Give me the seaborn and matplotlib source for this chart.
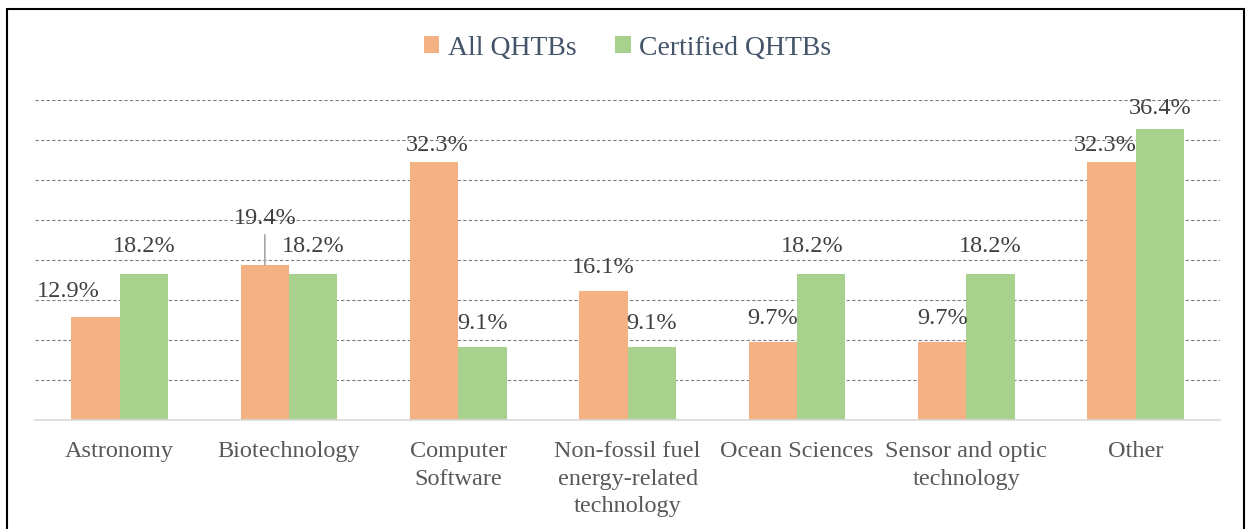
import pandas as pd
import matplotlib.pyplot as plt
import seaborn as sns
from matplotlib.patches import Rectangle

# data
categories = ['Astronomy', 'Biotechnology', 'Computer\nSoftware',
              'Non-fossil fuel\nenergy-related\ntechnology', 'Ocean Sciences',
              'Sensor and optic\ntechnology', 'Other']
all_qhtbs = [12.9, 19.4, 32.3, 16.1, 9.7, 9.7, 32.3]
certified_qhtbs = [18.2, 18.2, 9.1, 9.1, 18.2, 18.2, 36.4]
series = ['All QHTBs', 'Certified QHTBs']

df = pd.DataFrame({
    'category': categories * 2,
    'value': all_qhtbs + certified_qhtbs,
    'series': [series[0]] * 7 + [series[1]] * 7,
})

sns.set_theme(style='white')
plt.rcParams['font.family'] = ['Liberation Serif', 'DejaVu Serif']

fig = plt.figure(figsize=(12.49, 5.29), dpi=100)
ax = fig.add_axes([0.028, 0.206, 0.949, 0.605])

sns.barplot(data=df, x='category', y='value', hue='series', order=categories,
            palette=['#F4B183', '#A9D18E'], width=0.57, saturation=1,
            edgecolor='none', ax=ax, legend=True)

ax.set_ylim(0, 40)
ax.set_xlim(-0.5, 6.5)
ax.set_yticks(range(5, 45, 5))
ax.yaxis.grid(True, color='#7F7F7F', linestyle=(0, (3, 2)), linewidth=0.8)
ax.set_axisbelow(True)
ax.tick_params(axis='y', left=False, labelleft=False)
ax.tick_params(axis='x', bottom=False, labelsize=17.5, colors='#595959', pad=9)
for lab in ax.get_xticklabels():
    lab.set_linespacing(1.42)
ax.set_xlabel('')
ax.set_ylabel('')
for s in ['top', 'right', 'left']:
    ax.spines[s].set_visible(False)
ax.spines['bottom'].set_color('#D9D9D9')
ax.spines['bottom'].set_linewidth(1.2)

# data labels (offsets in pixels: dx, dy above bar top)
offsets = [
    [(-27, 25), (0, 25), (3, 16), (0, 24), (0, 24), (0, 24), (-6, 16)],
    [(0, 28), (0, 28), (0, 24), (0, 24), (-9, 28), (0, 28), (0, 20)],
]
for i, cont in enumerate(ax.containers):
    for j, bar in enumerate(cont):
        dx, dy = offsets[i][j]
        x = bar.get_x() + bar.get_width() / 2
        y = bar.get_height()
        if i == 0 and j == 1:
            # raised label with leader line
            ax.annotate('', xy=(x, y), xytext=(0, 30 / 1.389),
                        textcoords='offset points',
                        arrowprops=dict(arrowstyle='-', color='#A6A6A6', lw=1.2,
                                        shrinkA=0, shrinkB=0))
            dy = 46
        ax.annotate(f'{y:.1f}%', xy=(x, y), xytext=(dx / 1.389, dy / 1.389),
                    textcoords='offset points', ha='center', va='center',
                    fontsize=17.5, color='#404040')

leg = ax.legend(loc='center', bbox_to_anchor=(0.5, 1.162), ncol=2,
                frameon=False, fontsize=20, handlelength=0.55, handleheight=0.55,
                handletextpad=0.3, columnspacing=1.4)
for t in leg.get_texts():
    t.set_color('#44546A')

# chart frame
fig.patches.append(Rectangle((0.006, -0.01), 0.99, 0.993, transform=fig.transFigure,
                             fill=False, edgecolor='black', linewidth=1.5))

fig.savefig('out.png', dpi=100)
